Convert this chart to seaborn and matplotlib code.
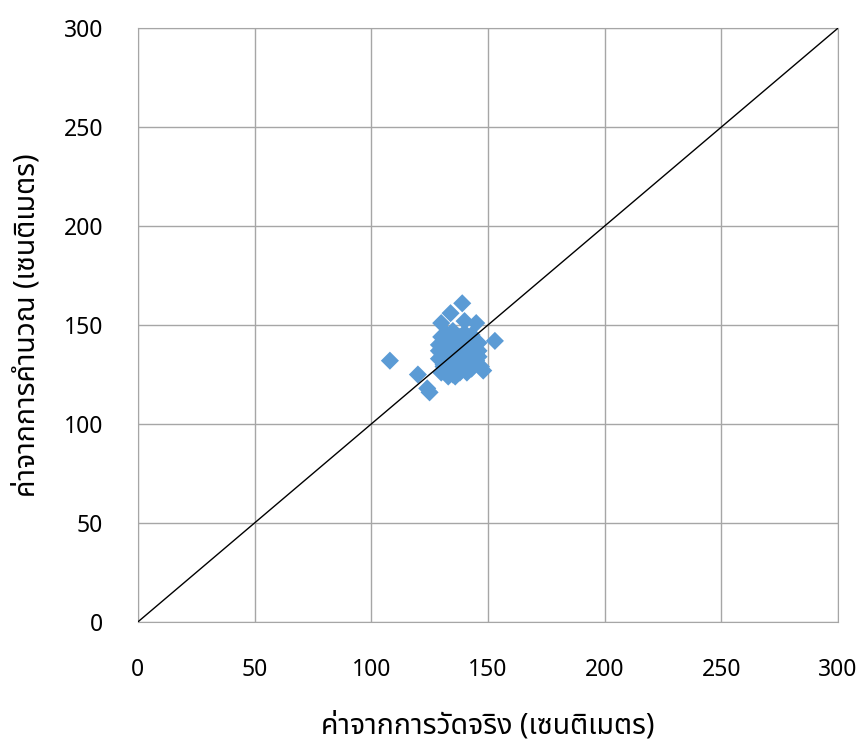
import matplotlib.pyplot as plt
import seaborn as sns
import pandas as pd

# measured vs calculated (cm)
measured = [108, 139, 134, 130, 140, 145, 153, 120, 125, 124, 148, 147,
            129, 129, 130, 130, 131, 131, 132, 132, 133, 133, 134, 134,
            135, 135, 136, 136, 137, 137, 138, 138, 139, 139, 140, 140,
            141, 141, 142, 142, 143, 143, 144, 144, 145, 145, 146, 146,
            130, 132, 134, 136, 138, 140, 142, 144, 131, 133, 135, 137,
            139, 141, 143, 145, 134, 136, 138, 140, 142, 135, 137, 139,
            129, 131, 133, 143, 146, 141]
calculated = [132, 161, 156, 151, 152, 151, 142, 125, 116, 118, 127, 129,
              133, 140, 126, 144, 130, 137, 128, 146, 124, 141, 131, 143,
              125, 146, 129, 145, 127, 138, 132, 144, 128, 141, 131, 146,
              135, 142, 129, 139, 133, 145, 136, 140, 132, 138, 134, 141,
              136, 135, 138, 133, 140, 137, 131, 143, 129, 139, 134, 142,
              136, 139, 128, 136, 127, 124, 126, 128, 136, 147, 135, 132,
              137, 134, 136, 130, 137, 126]
df = pd.DataFrame({"measured": measured, "calculated": calculated})

plt.rcParams['font.family'] = ['Noto Sans Thai', 'Noto Sans', 'DejaVu Sans']
fig, ax = plt.subplots(figsize=(8.62, 7.43), dpi=100)
fig.subplots_adjust(left=0.160, right=0.972, top=0.962, bottom=0.163)

sns.scatterplot(data=df, x="measured", y="calculated", marker="D", s=85,
                color="#5b9bd5", edgecolor="none", ax=ax, zorder=3)
ax.plot([0, 300], [0, 300], color="black", lw=1, zorder=4)

ax.set_xlim(0, 300)
ax.set_ylim(0, 300)
ticks = [0, 50, 100, 150, 200, 250, 300]
ax.set_xticks(ticks)
ax.set_yticks(ticks)
ax.grid(True, color="#a6a6a6", lw=1)
ax.set_axisbelow(True)
for sp in ax.spines.values():
    sp.set_color("#a6a6a6")
ax.tick_params(length=0, labelsize=16.5)
ax.tick_params(axis="x", pad=26)
ax.tick_params(axis="y", pad=25)
ax.set_xlabel("ค่าจากการวัดจริง (เซนติเมตร)", fontsize=20.5, labelpad=21)
ax.set_ylabel("ค่าจากการคำนวณ (เซนติเมตร)", fontsize=20.5, labelpad=16)

plt.savefig("out.png", dpi=100)
